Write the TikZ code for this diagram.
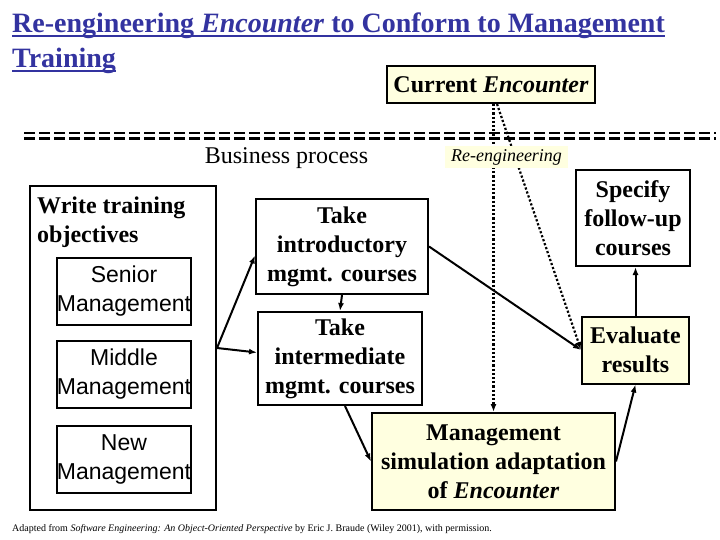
\documentclass[tikz,border=0pt]{standalone}
\usepackage{fontspec}
\setmainfont{Liberation Serif}
\newfontfamily\arialfont{Liberation Sans}
\usetikzlibrary{arrows.meta,calc}
\definecolor{titleblue}{RGB}{51,51,160}
\definecolor{paleyellow}{RGB}{255,255,224}
\begin{document}
\begin{tikzpicture}[x=1pt,y=-1pt,
  box/.style={draw,line width=2pt,inner sep=0pt,align=center},
  boldtext/.style={font=\fontsize{24}{29}\selectfont\bfseries},
  sanstext/.style={font=\arialfont\fontsize{23}{29}\selectfont},
  yel/.style={fill=paleyellow},
  arr/.style={line width=2pt,-{Latex[length=8pt,width=6pt]}},
  dotarr/.style={line width=2.2pt,dotted,-{Latex[length=8pt,width=6pt]}},
  eqline/.style={line width=2.2pt,dash pattern=on 11pt off 4pt}]
\useasboundingbox (0,0) rectangle (720,540);
\fill[white] (0,0) rectangle (720,540);
% title
\node[anchor=base west,inner sep=0pt,text=titleblue,font=\fontsize{28}{34}\selectfont\bfseries] (t1) at (12,33) {Re-engineering \textit{Encounter} to Conform to Management};
\node[anchor=base west,inner sep=0pt,text=titleblue,font=\fontsize{28}{34}\selectfont\bfseries] (t2) at (12,68) {Training};
\draw[titleblue,line width=1.8pt] ([yshift=-3pt]t1.base west) -- ([yshift=-3pt]t1.base east);
\draw[titleblue,line width=1.8pt] ([yshift=-3pt]t2.base west) -- ([yshift=-3pt]t2.base east);
% double dashed line
\coordinate (dl1) at (24,133);
\coordinate (dr1) at (716,133);
\coordinate (dl2) at (24,138.5);
\coordinate (dr2) at (716,138.5);
\draw[eqline] (dl1) -- (dr1);
\draw[eqline] (dl2) -- (dr2);
% boxes
\node[box,yel,boldtext,minimum width=208pt,minimum height=37pt] (cur) at (491,84.5) {Current \textit{Encounter}};
\node[font=\fontsize{24}{29}\selectfont,inner sep=0pt] (bp) at (286.5,158) {Business process};
\node[box,minimum width=186pt,minimum height=324pt] (wto) at (123,348) {};
\node[anchor=north west,boldtext,align=left,inner sep=0pt] (wtot) at (37,197) {Write training\\objectives};
\node[box,sanstext,minimum width=132pt,minimum height=67pt] (sen) at (124,291.5) {Senior\\Management};
\node[box,sanstext,minimum width=132pt,minimum height=67pt] (mid) at (124,374.5) {Middle\\Management};
\node[box,sanstext,minimum width=132pt,minimum height=67pt] (new) at (124,459.5) {New\\Management};
\node[box,boldtext,minimum width=172pt,minimum height=95pt] (intro) at (342,246.5) {Take\\introductory\\mgmt. courses};
\node[box,boldtext,minimum width=164pt,minimum height=93pt] (inter) at (340,358.5) {Take\\intermediate\\mgmt. courses};
\node[box,boldtext,minimum width=114pt,minimum height=96pt] (spec) at (633,218) {Specify\\follow-up\\courses};
\node[box,yel,boldtext,minimum width=107pt,minimum height=67pt] (eval) at (635.5,350) {Evaluate\\results};
\node[box,yel,boldtext,minimum width=243pt,minimum height=97pt] (msim) at (493.5,461.5) {Management\\simulation adaptation\\of \textit{Encounter}};
% connectors
\draw[arr] (wto.east) -- ([yshift=-9pt]intro.west);
\draw[arr] (wto.east) -- ([yshift=6pt]inter.west);
\draw[arr] (intro.south) -- (inter.south |- inter.north);
\draw[arr] (intro.east) -- (eval.west);
\draw[arr] ([xshift=5pt]inter.south) -- (msim.west);
\draw[arr] (msim.east) -- (eval.south);
\draw[arr] (eval.north) -- (eval.north |- spec.south);
\draw[dotarr] (cur.south -| msim.north) -- (msim.north);
\draw[dotarr] ([xshift=6pt]cur.south) -- (eval.west);
% re-engineering label on top
\node[fill=paleyellow,minimum width=123pt,minimum height=22pt,inner sep=0pt,font=\fontsize{18}{20}\selectfont\itshape] (reeng) at (506.5,157) {Re-engineering};
% footer
\node[anchor=west,inner sep=0pt,font=\fontsize{10}{12}\selectfont] (foot) at (12,529) {Adapted from \textit{Software Engineering: An Object-Oriented Perspective} by Eric J. Braude (Wiley 2001), with permission.};
\end{tikzpicture}
\end{document}
